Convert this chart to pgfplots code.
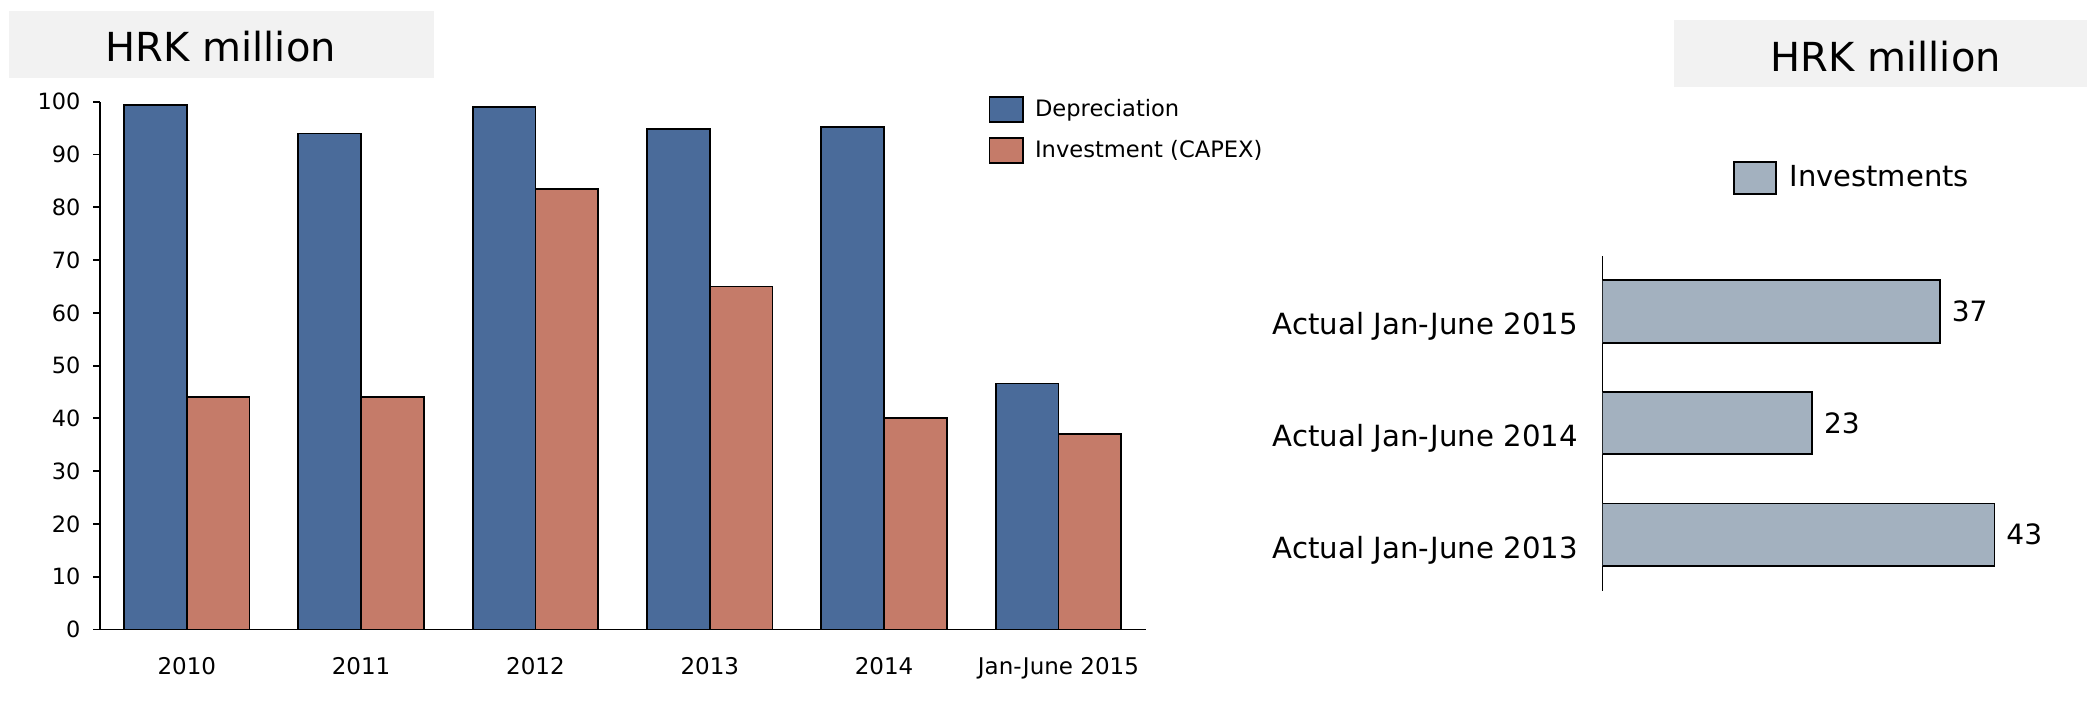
\documentclass[border=0pt]{standalone}
\usepackage{fontspec}
\setmainfont{DejaVu Sans}
\usepackage{pgfplots}
\pgfplotsset{compat=1.18}

\definecolor{depblue}{HTML}{4A6B9A}
\definecolor{capexred}{HTML}{C57B69}
\definecolor{invgray}{HTML}{A3B1BF}
\definecolor{boxgray}{HTML}{F2F2F2}

\begin{document}
\begin{tikzpicture}
\path[use as bounding box] (0pt,0pt) rectangle (1043.5pt,-354.5pt);

% title boxes
\fill[boxgray] (4.45pt,-5.65pt) rectangle (217.2pt,-39.15pt);
\node[font=\fontsize{20}{23}\selectfont, inner sep=0pt] at (110.4pt,-23.5pt) {HRK million};
\fill[boxgray] (837.2pt,-10pt) rectangle (1043.5pt,-43.6pt);
\node[font=\fontsize{20}{23}\selectfont, inner sep=0pt] at (942.9pt,-28.2pt) {HRK million};

% left: depreciation vs capex
\begin{axis}[
  at={(49.8pt,-314.7pt)}, anchor=south west,
  scale only axis, width=523pt, height=263.8pt,
  xmin=-0.5, xmax=5.5, ymin=0, ymax=100,
  axis x line*=bottom, axis y line*=left,
  axis line style={-, line width=0.9pt},
  ybar=0pt, bar width=0.36,
  xtick=data,
  xticklabels={2010,2011,2012,2013,2014,Jan-June 2015},
  ytick={0,10,...,100},
  tick align=outside, major tick length=3.2pt,
  major x tick style={draw=none},
  major y tick style={line width=0.9pt, black},
  xticklabel style={font=\fontsize{11.5}{13}\selectfont, inner sep=0pt, anchor=north, yshift=-10.6pt},
  yticklabel style={font=\fontsize{11.2}{13}\selectfont, inner sep=0pt, xshift=-6.25pt},
  /pgf/number format/assume math mode=true,
  legend style={at={(0.8496,1.011)}, anchor=north west, draw=none, fill=none,
    inner sep=0pt, row sep=7.35pt, column sep=5.5pt,
    font=\fontsize{11.3}{13}\selectfont, nodes={inner sep=0pt}},
  legend cell align=left,
  legend image code/.code={\draw[#1] (0pt,-6.1pt) rectangle (16.8pt,6.1pt);},
]
\addplot[fill=depblue, draw=black, line width=0.9pt] coordinates {
  (0,99.4) (1,94.0) (2,99.0) (3,94.9) (4,95.3) (5,46.6)
};
\addplot[fill=capexred, draw=black, line width=0.9pt] coordinates {
  (0,44.1) (1,44.1) (2,83.4) (3,65.0) (4,40.0) (5,37.1)
};
\legend{Depreciation, Investment (CAPEX)}
\end{axis}

% right: half-year investments
\begin{axis}[
  at={(801.2pt,-295.25pt)}, anchor=south west,
  scale only axis, width=228pt, height=167.4pt,
  xmin=0, xmax=50, ymin=-0.5, ymax=2.5,
  axis y line*=left, axis x line=none,
  axis line style={-, line width=0.9pt},
  xbar, bar width=0.56,
  xtick=\empty,
  ytick={0,1,2},
  yticklabels={Actual Jan-June 2013, Actual Jan-June 2014, Actual Jan-June 2015},
  major y tick style={draw=none}, major tick length=0pt,
  yticklabel style={font=\fontsize{14.6}{17}\selectfont, inner sep=0pt, anchor=base east, xshift=-12pt, yshift=-11.7pt},
  nodes near coords,
  nodes near coords style={font=\fontsize{14}{16}\selectfont, inner sep=0pt, anchor=west, xshift=5.5pt, black},
  /pgf/number format/assume math mode=true,
  legend style={at={(0.2849,1.2837)}, anchor=north west, draw=none, fill=none,
    inner sep=0pt, column sep=6.3pt,
    font=\fontsize{14.5}{17}\selectfont, nodes={inner sep=0pt}},
  legend image code/.code={\draw[#1] (0pt,-7.9pt) rectangle (21.2pt,7.9pt);},
]
\addplot[fill=invgray, draw=black, line width=0.9pt] coordinates {
  (43,0) (23,1) (37,2)
};
\legend{Investments}
\end{axis}
\end{tikzpicture}
\end{document}
